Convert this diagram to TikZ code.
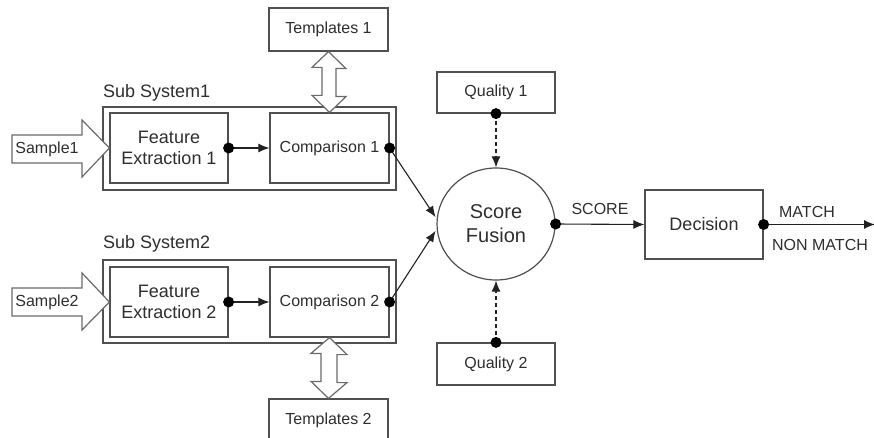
\documentclass[tikz,border=0pt]{standalone}
\usepackage{fontspec}
\setmainfont{Liberation Sans}
\usetikzlibrary{arrows.meta,shapes.geometric,calc}
\definecolor{boxc}{HTML}{505050}
\definecolor{txtc}{HTML}{2E2E2E}
\definecolor{linec}{HTML}{222222}
\definecolor{hollowc}{HTML}{6A6A6A}
\tikzset{
  box/.style={draw=boxc, line width=1.2pt, rectangle, inner sep=0pt, text=txtc, align=center, font=\fontsize{16}{18}\selectfont},
  bigbox/.style={box, font=\fontsize{18}{21}\selectfont},
  outer/.style={draw=boxc, line width=1.2pt, rectangle, inner sep=0pt},
  lbl/.style={text=txtc, inner sep=0pt, font=\fontsize{16}{18}\selectfont},
  conn/.style={draw=linec, line width=1.1pt, -{Latex[length=11pt,width=9pt]}},
  dconn/.style={conn, dash pattern=on 4pt off 3pt},
  hollow/.style={draw=hollowc, line width=1.2pt, fill=white, line join=miter},
}
\newcommand{\dotat}[1]{\fill[black] (#1) circle (5.5pt);}
\begin{document}
\begin{tikzpicture}[x=1pt,y=-1pt]
\useasboundingbox (0,0) rectangle (874,438);
\clip (0,0) rectangle (874,438);
\fill[white] (0,0) rectangle (874,438);

% sub systems
\node[outer, minimum width=293pt, minimum height=83pt] (ss1) at (249.5,148.5) {};
\node[outer, minimum width=293pt, minimum height=83pt] (ss2) at (249.5,301.5) {};
\node[lbl, anchor=west, font=\fontsize{18}{21}\selectfont] (ss1l) at (103,93) {Sub System1};
\node[lbl, anchor=west, font=\fontsize{18}{21}\selectfont] (ss2l) at (103,244) {Sub System2};

\node[bigbox, minimum width=118pt, minimum height=70pt] (fe1) at (169,148) {Feature\\Extraction 1};
\node[box, minimum width=119pt, minimum height=70pt] (cmp1) at (329.5,148) {Comparison 1};
\node[bigbox, minimum width=118pt, minimum height=70pt] (fe2) at (169,302) {Feature\\Extraction 2};
\node[box, minimum width=119pt, minimum height=70pt] (cmp2) at (329.5,302) {Comparison 2};

\node[box, minimum width=119pt, minimum height=43pt] (tpl1) at (328.5,29.5) {Templates 1};
\node[box, minimum width=119pt, minimum height=43pt] (tpl2) at (328.5,420.5) {Templates 2};

\node[box, minimum width=118pt, minimum height=41pt] (q1) at (496,92.5) {Quality 1};
\node[box, minimum width=118pt, minimum height=42pt] (q2) at (496,364) {Quality 2};

\node[ellipse, draw=boxc, line width=1.2pt, minimum width=118pt, minimum height=112pt, inner sep=0pt, text=txtc, align=center, font=\fontsize{20}{24}\selectfont] (fus) at (496,224) {Score\\Fusion};

\node[bigbox, minimum width=118pt, minimum height=69pt] (dec) at (704,224.5) {Decision};

% sample hollow arrows
\draw[hollow] (12,135) -- (82,135) -- (82,120) -- (fe1.west) -- (82,177) -- (82,163) -- (12,163) -- cycle;
\node[lbl] (s1) at (47,149) {Sample1};
\draw[hollow] (12,288) -- (82,288) -- (82,273) -- (fe2.west) -- (82,330) -- (82,316) -- (12,316) -- cycle;
\node[lbl] (s2) at (47,302) {Sample2};

% template double arrows
\draw[hollow] (tpl1.south) -- ++(17.5,17) -- ++(-10,0) -- ++(0,28) -- ++(10,0) -- (cmp1.north) -- ++(-17.5,-17) -- ++(10,0) -- ++(0,-28) -- ++(-10,0) -- cycle;
\draw[hollow] (cmp2.south) -- ++(17.5,17) -- ++(-10,0) -- ++(0,28) -- ++(10,0) -- (tpl2.north) -- ++(-17.5,-17) -- ++(10,0) -- ++(0,-28) -- ++(-10,0) -- cycle;

% connectors
\draw[conn] (fe1.east) -- (cmp1.west);
\draw[conn] (fe2.east) -- (cmp2.west);
\draw[conn, shorten >=2pt] (cmp1.east) -- (fus.175);
\draw[conn, shorten >=2pt] (cmp2.east) -- (fus.185);
\draw[dconn] (q1.south) -- (fus.north);
\draw[dconn] (q2.north) -- (fus.south);
\draw[conn] (fus.east) -- node[lbl, above=9pt] (scorel) {SCORE} (dec.west);
\coordinate (outend) at (875,224.5);
\draw[conn] (dec.east) -- (outend);
\node[lbl] (match) at (807,212) {MATCH};
\node[lbl] (nonmatch) at (820,245) {NON MATCH};

% dots
\dotat{fe1.east}
\dotat{fe2.east}
\dotat{cmp1.east}
\dotat{cmp2.east}
\dotat{q1.south}
\dotat{q2.north}
\dotat{fus.east}
\dotat{dec.east}
\end{tikzpicture}
\end{document}
